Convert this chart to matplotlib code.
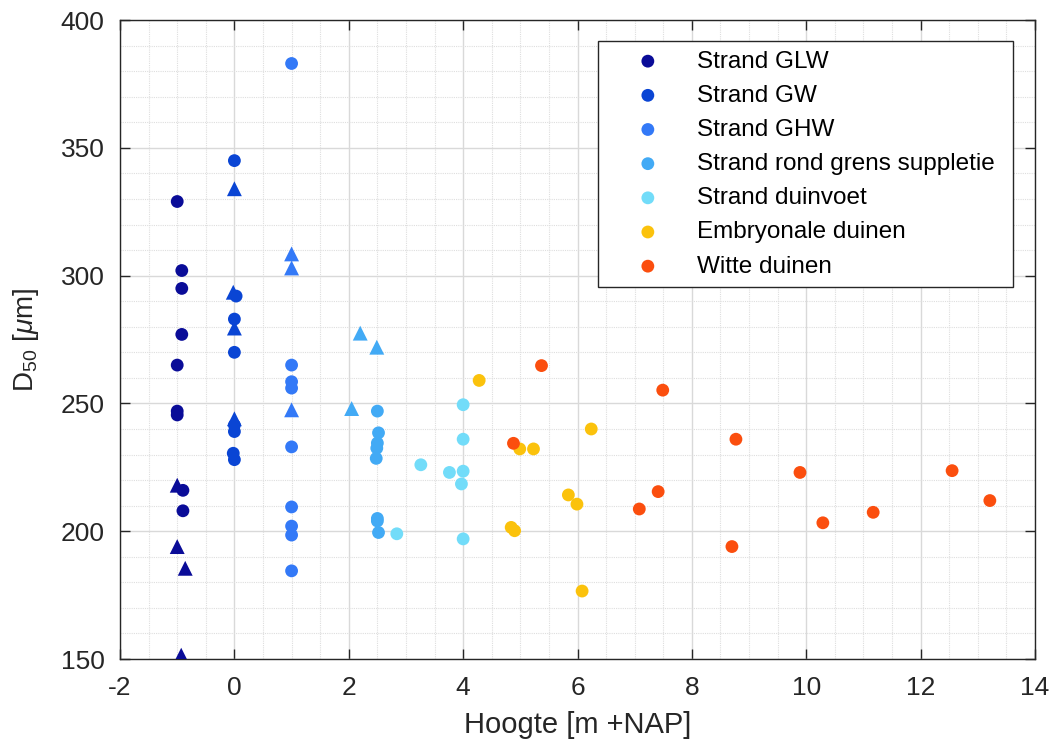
import matplotlib
matplotlib.use("Agg")
import matplotlib.pyplot as plt
from matplotlib.ticker import MultipleLocator

plt.rcParams['font.family'] = ['Liberation Sans', 'DejaVu Sans']
plt.rcParams['mathtext.fontset'] = 'custom'
plt.rcParams['mathtext.rm'] = 'Liberation Sans'
plt.rcParams['mathtext.it'] = 'Liberation Sans:italic'
plt.rcParams['axes.unicode_minus'] = False

labels = ["Strand GLW", "Strand GW", "Strand GHW", "Strand rond grens suppletie",
          "Strand duinvoet", "Embryonale duinen", "Witte duinen"]
colors = ["#0a0c98", "#0a45d4", "#3379f7", "#42aaf5", "#72dcf9", "#fbc20c", "#fb4e0e"]

# circles (x, y) per group
glw_cx = [-1.0, -0.92, -0.92, -0.92, -1.0, -1.0, -1.0, -0.9, -0.9]
glw_cy = [329, 302, 295, 277, 265, 247, 245.5, 216, 208]
gw_cx = [0.0, 0.03, 0.0, 0.0, 0.0, 0.0, -0.02, 0.0]
gw_cy = [345, 292, 283, 270, 241.5, 239, 230.5, 228]
ghw_cx = [1.0, 1.0, 1.0, 1.0, 1.0, 1.0, 1.0, 1.0, 1.0]
ghw_cy = [383, 265, 258.5, 256, 233, 209.5, 202, 198.5, 184.5]
grens_cx = [2.5, 2.52, 2.5, 2.49, 2.48, 2.5, 2.5, 2.52]
grens_cy = [247, 238.5, 234.5, 232.5, 228.5, 205, 204, 199.5]
duin_cx = [2.84, 3.26, 3.76, 4.0, 3.97, 4.0, 4.0, 4.0]
duin_cy = [199, 226, 223, 223.5, 218.5, 236, 249.5, 197]
emb_cx = [4.28, 4.99, 5.23, 5.84, 5.99, 4.84, 4.9, 6.24, 6.08]
emb_cy = [259, 232.2, 232.2, 214.2, 210.6, 201.5, 200.2, 240, 176.6]
wit_cx = [5.37, 7.49, 4.88, 7.41, 7.08, 8.77, 8.70, 9.89, 10.29, 11.17, 12.55, 13.21]
wit_cy = [264.8, 255.2, 234.4, 215.5, 208.7, 236, 194, 223, 203.3, 207.4, 223.7, 212]

# triangles (x, y) per group
glw_tx = [-1.0, -1.0, -0.86, -0.93]
glw_ty = [218, 194, 185.5, 151.5]
gw_tx = [0.0, -0.02, 0.0, 0.0]
gw_ty = [334, 293.5, 279.5, 244]
ghw_tx = [1.0, 1.0, 1.0]
ghw_ty = [308.5, 303, 247.5]
grens_tx = [2.2, 2.49, 2.05]
grens_ty = [277.5, 272, 248]

circ_x = [glw_cx, gw_cx, ghw_cx, grens_cx, duin_cx, emb_cx, wit_cx]
circ_y = [glw_cy, gw_cy, ghw_cy, grens_cy, duin_cy, emb_cy, wit_cy]
tri_x = [glw_tx, gw_tx, ghw_tx, grens_tx]
tri_y = [glw_ty, gw_ty, ghw_ty, grens_ty]

fig = plt.figure(figsize=(10.51, 7.45), dpi=100)
ax = fig.add_axes([0.1142, 0.1154, 0.8706, 0.8577])

handles = []
for cx, cy, c, lab in zip(circ_x, circ_y, colors, labels):
    h = ax.scatter(cx, cy, s=85, marker='o', color=c, edgecolors='none', label=lab, zorder=3)
    handles.append(h)
for tx, ty, c in zip(tri_x, tri_y, colors):
    ax.scatter(tx, ty, s=115, marker='^', color=c, edgecolors='none', zorder=3)

ax.set_xlim(-2, 14)
ax.set_ylim(150, 400)
ax.xaxis.set_major_locator(MultipleLocator(2))
ax.yaxis.set_major_locator(MultipleLocator(50))
ax.xaxis.set_minor_locator(MultipleLocator(0.5))
ax.yaxis.set_minor_locator(MultipleLocator(10))
ax.grid(True, which='major', color='#d9d9d9', linewidth=1.0, linestyle='-', zorder=0)
ax.grid(True, which='minor', color='#dedede', linewidth=0.8, linestyle=(0, (1, 1)), zorder=0)
ax.set_axisbelow(True)
ax.tick_params(which='major', direction='in', length=7, width=1, colors='#262626',
               labelsize=19, top=True, right=True)
ax.tick_params(axis='y', which='major', pad=11)
ax.tick_params(axis='x', which='major', pad=12)
ax.tick_params(which='minor', length=0, top=True, right=True)
for lbl in ax.get_xticklabels() + ax.get_yticklabels():
    lbl.set_color('#262626')
for sp in ax.spines.values():
    sp.set_color('#262626')
    sp.set_linewidth(1.0)

ax.set_xlabel('Hoogte [m +NAP]', fontsize=21, color='#262626', labelpad=8)
ax.set_ylabel(r'D$_{50}$ [$\mu$m]', fontsize=20, color='#262626', labelpad=14)

leg = ax.legend(handles=handles, loc='upper left',
                bbox_to_anchor=(0.5224, 0.5, 0.4536, 0.4675), mode='expand',
                fontsize=17.5, frameon=True, fancybox=False, edgecolor='#262626',
                framealpha=1, borderpad=0.4, labelspacing=0.5, handletextpad=0.38,
                borderaxespad=0, markerscale=1.0, handlelength=3.3)
leg.get_frame().set_linewidth(1.0)

fig.savefig('out.png', dpi=100)
